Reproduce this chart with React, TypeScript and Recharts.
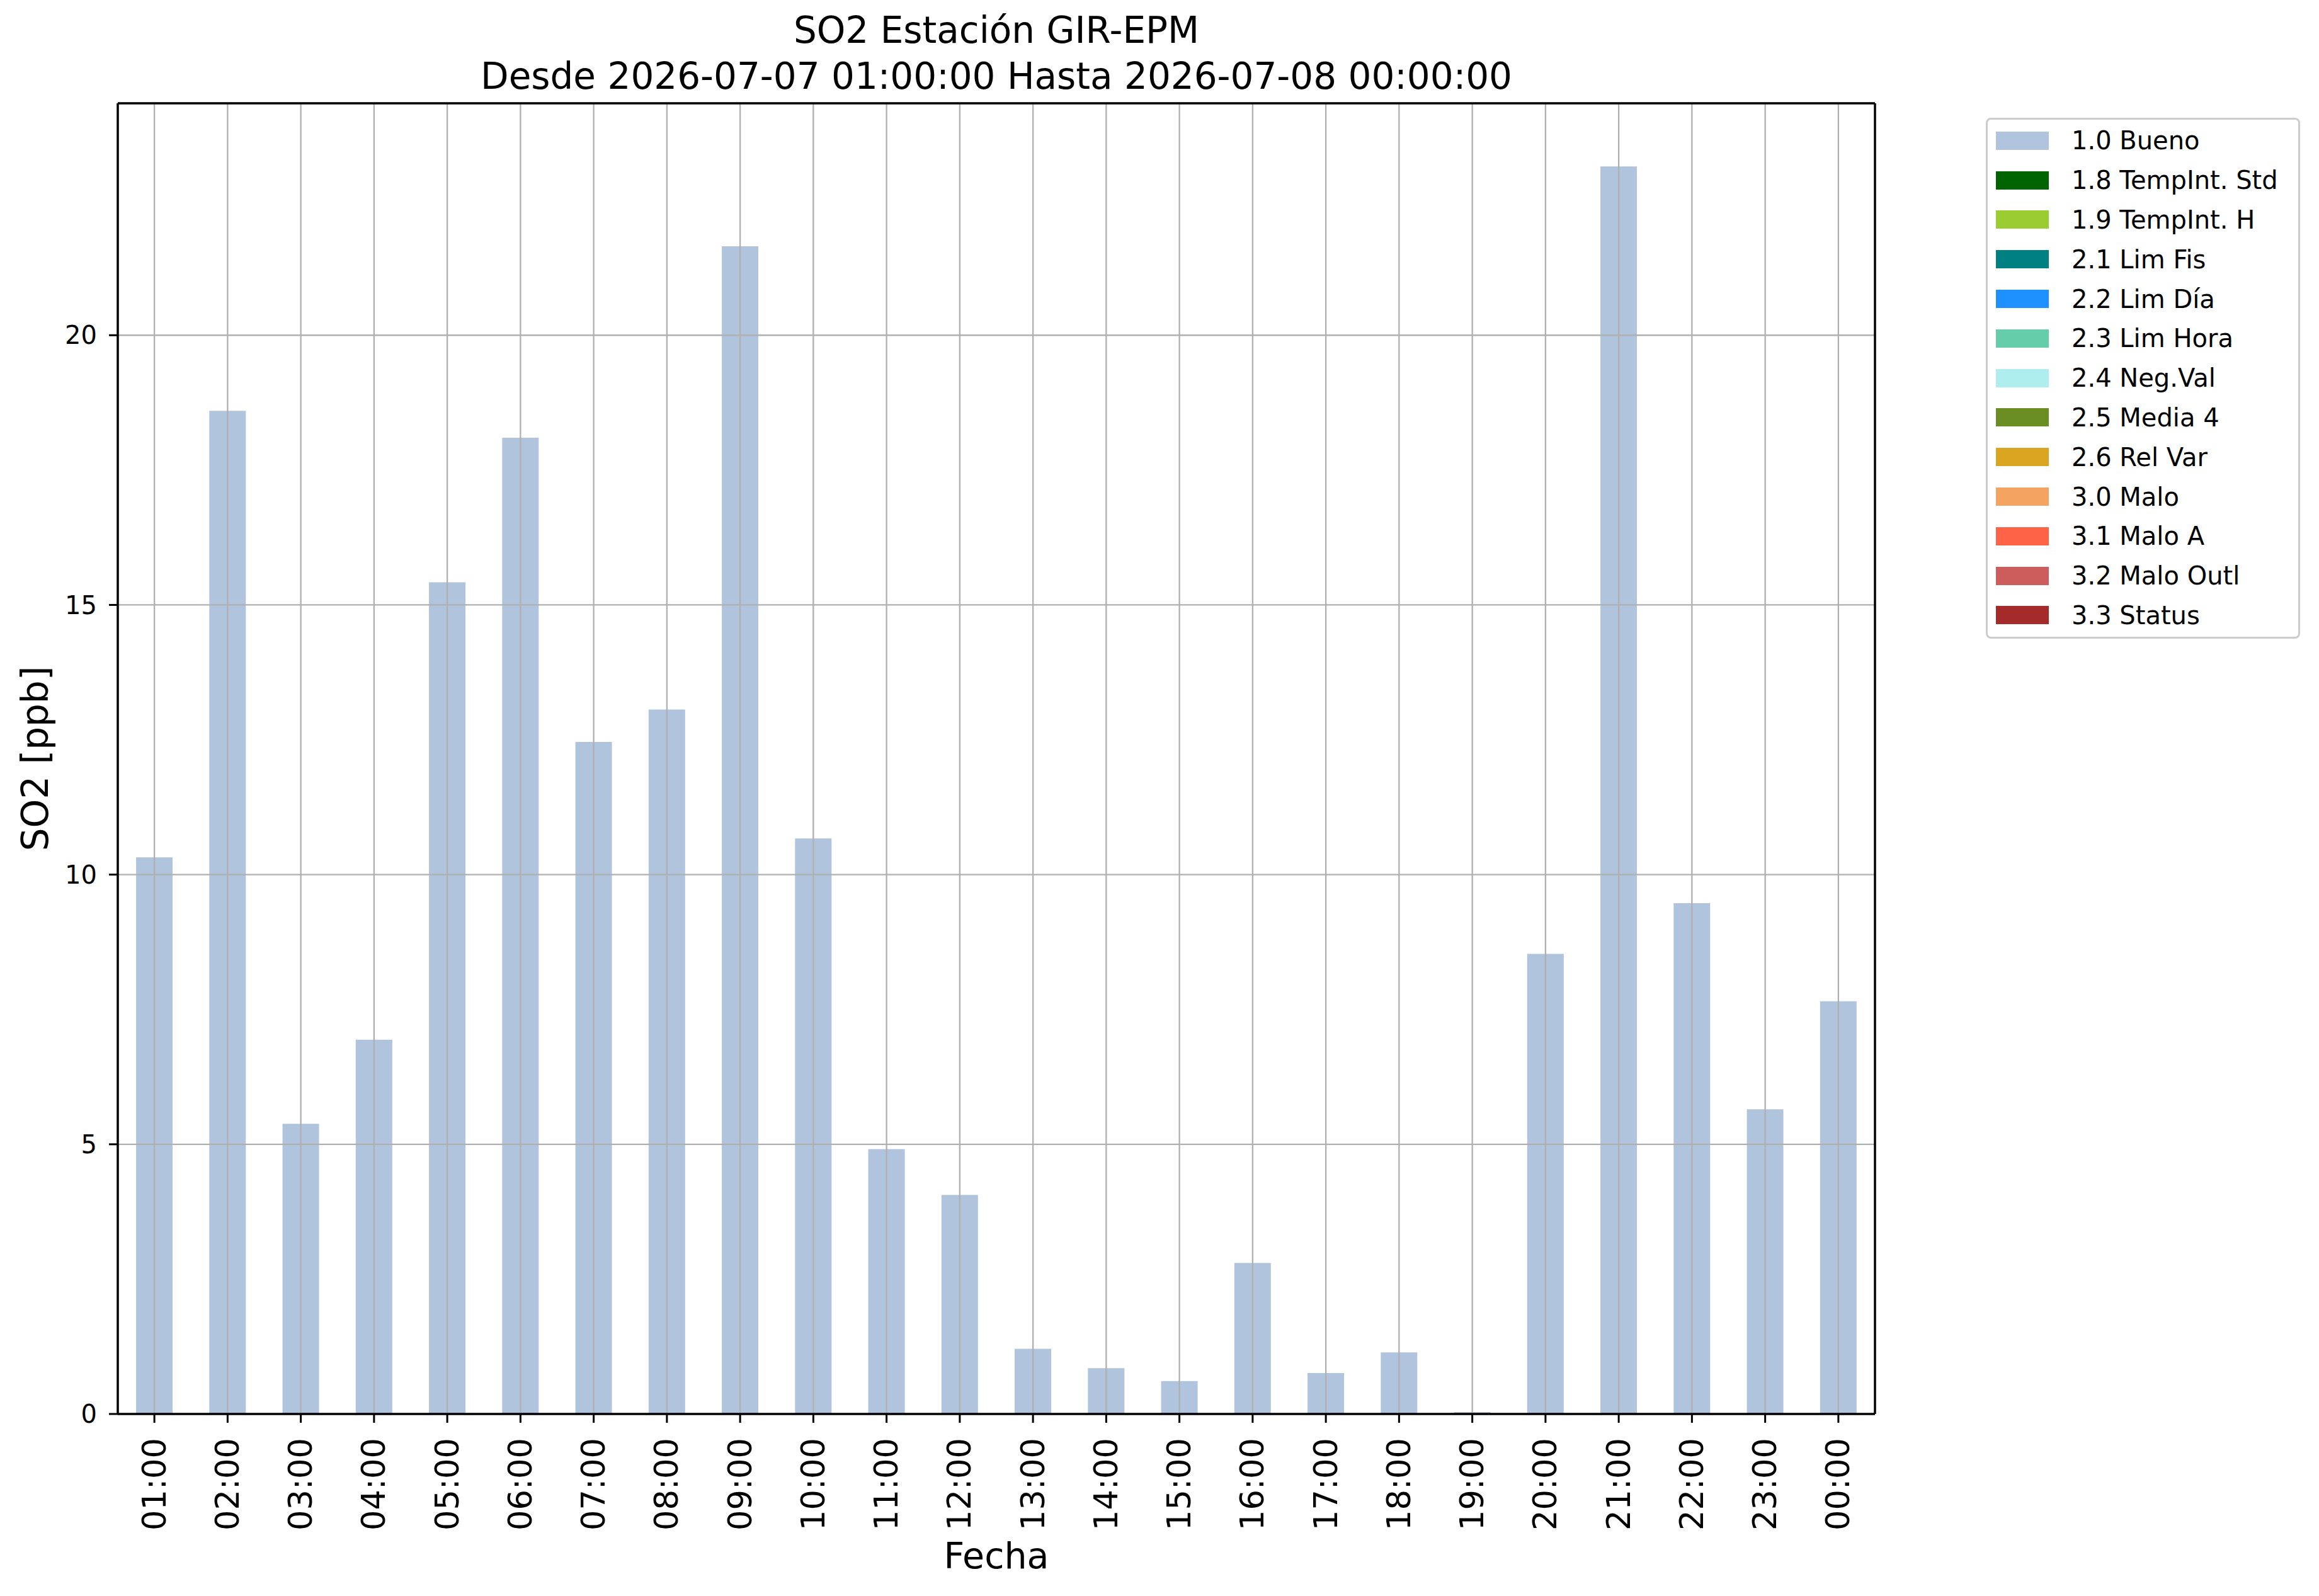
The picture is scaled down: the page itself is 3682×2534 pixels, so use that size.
import React from "react";
import { BarChart, Bar, XAxis, YAxis, CartesianGrid, Label } from "recharts";

const hours = [
  "01:00", "02:00", "03:00", "04:00", "05:00", "06:00", "07:00", "08:00",
  "09:00", "10:00", "11:00", "12:00", "13:00", "14:00", "15:00", "16:00",
  "17:00", "18:00", "19:00", "20:00", "21:00", "22:00", "23:00", "00:00",
];

// SO2 values flagged "1.0 Bueno" (ppb)
const buenoValues = [
  10.32, 18.6, 5.38, 6.94, 15.42, 18.1, 12.46, 13.06, 21.65, 10.67, 4.91, 4.06,
  1.21, 0.85, 0.61, 2.8, 0.76, 1.14, 0.035, 8.53, 23.13, 9.47, 5.65, 7.65,
];

const yTicks = [0, 5, 10, 15, 20];
const yMax = 24.3;

const flagNames = [
  "1.0 Bueno", "1.8 TempInt. Std", "1.9 TempInt. H", "2.1 Lim Fis", "2.2 Lim Día",
  "2.3 Lim Hora", "2.4 Neg.Val", "2.5 Media 4", "2.6 Rel Var", "3.0 Malo",
  "3.1 Malo A", "3.2 Malo Outl", "3.3 Status",
];
const flagColors = [
  "#b0c4de", "#006400", "#9acd32", "#008080", "#1e90ff", "#66cdaa", "#afeeee",
  "#6b8e23", "#daa520", "#f4a460", "#ff6347", "#cd5c5c", "#a52a2a",
];

const titleLines = [
  "SO2 Estación GIR-EPM",
  "Desde 2026-07-07 01:00:00 Hasta 2026-07-08 00:00:00",
];

const data = hours.map((hour, i) => ({ hour, bueno: buenoValues[i] }));

const FONT = "'DejaVu Sans', sans-serif";
const W = 3666;
const H = 2518;

const HourTick = (props: any) => {
  const { x, y, payload } = props;
  return (
    <text
      transform={`translate(${x},${y}) rotate(-90)`}
      textAnchor="end"
      dominantBaseline="central"
      fontSize={51}
      fontFamily={FONT}
      fill="#000"
    >
      {payload.value}
    </text>
  );
};

const YLabel = (props: any) => {
  const vb = props.viewBox || { x: 0, y: 0, width: 0, height: 0 };
  const cx = 48;
  const cy = vb.y + vb.height / 2;
  return (
    <text
      transform={`translate(${cx},${cy}) rotate(-90)`}
      textAnchor="middle"
      dominantBaseline="central"
      fontSize={58}
      fontFamily={FONT}
      fill="#000"
    >
      SO2 [ppb]
    </text>
  );
};

const XLabel = (props: any) => {
  const vb = props.viewBox || { x: 0, y: 0, width: 0, height: 0 };
  return (
    <text
      x={vb.x + vb.width / 2}
      y={2462}
      textAnchor="middle"
      dominantBaseline="central"
      fontSize={57}
      fontFamily={FONT}
      fill="#000"
    >
      Fecha
    </text>
  );
};

export default function App() {
  return (
    <div style={{ position: "relative", width: W, height: H, background: "#fff" }}>
      <div
        style={{
          position: "absolute",
          left: 179,
          width: 2790,
          top: 4,
          textAlign: "center",
          fontFamily: FONT,
          fontSize: 58,
          lineHeight: "73px",
          color: "#000",
          whiteSpace: "nowrap",
        }}
      >
        {titleLines.map((t) => (
          <div key={t}>{t}</div>
        ))}
      </div>

      <BarChart
        width={W}
        height={H}
        data={data}
        margin={{ top: 155, right: 696, bottom: 0, left: 0 }}
        barCategoryGap="25%"
      >
        <XAxis
          dataKey="hour"
          interval={0}
          height={281}
          tickSize={14}
          tickMargin={24}
          axisLine={{ stroke: "#000", strokeWidth: 3.5 }}
          tickLine={{ stroke: "#000", strokeWidth: 3 }}
          tick={<HourTick />}
        >
          <Label content={<XLabel />} />
        </XAxis>
        <XAxis
          xAxisId="top"
          orientation="top"
          dataKey="hour"
          height={1}
          tick={false}
          tickLine={false}
          axisLine={{ stroke: "#000", strokeWidth: 3.5 }}
        />
        <YAxis
          type="number"
          domain={[0, yMax]}
          ticks={yTicks}
          width={179}
          tickSize={14}
          tickMargin={19}
          axisLine={{ stroke: "#000", strokeWidth: 3.5 }}
          tickLine={{ stroke: "#000", strokeWidth: 3 }}
          tick={{ fontSize: 40, fontFamily: FONT, fill: "#000" }}
        >
          <Label content={<YLabel />} />
        </YAxis>
        <YAxis
          yAxisId="right"
          orientation="right"
          type="number"
          domain={[0, yMax]}
          width={1}
          tick={false}
          tickLine={false}
          axisLine={{ stroke: "#000", strokeWidth: 3.5 }}
        />
        <Bar dataKey="bueno" name={flagNames[0]} fill={flagColors[0]} isAnimationActive={false} />
        <CartesianGrid stroke="#b0b0b0" strokeWidth={2.3} zIndex={350} />
      </BarChart>

      <div
        style={{
          position: "absolute",
          left: 3145,
          top: 179,
          width: 499,
          height: 827,
          boxSizing: "border-box",
          border: "3px solid #cccccc",
          borderRadius: 8,
          background: "rgba(255,255,255,0.8)",
          paddingTop: 2,
          fontFamily: FONT,
          fontSize: 40,
          color: "#000",
        }}
      >
        {flagNames.map((name, i) => (
          <div
            key={name}
            style={{ height: 62.8, display: "flex", alignItems: "center", whiteSpace: "nowrap" }}
          >
            <div
              style={{
                marginLeft: 13,
                width: 84,
                height: 29,
                background: flagColors[i],
                flexShrink: 0,
              }}
            />
            <span style={{ marginLeft: 36 }}>{name}</span>
          </div>
        ))}
      </div>
    </div>
  );
}
